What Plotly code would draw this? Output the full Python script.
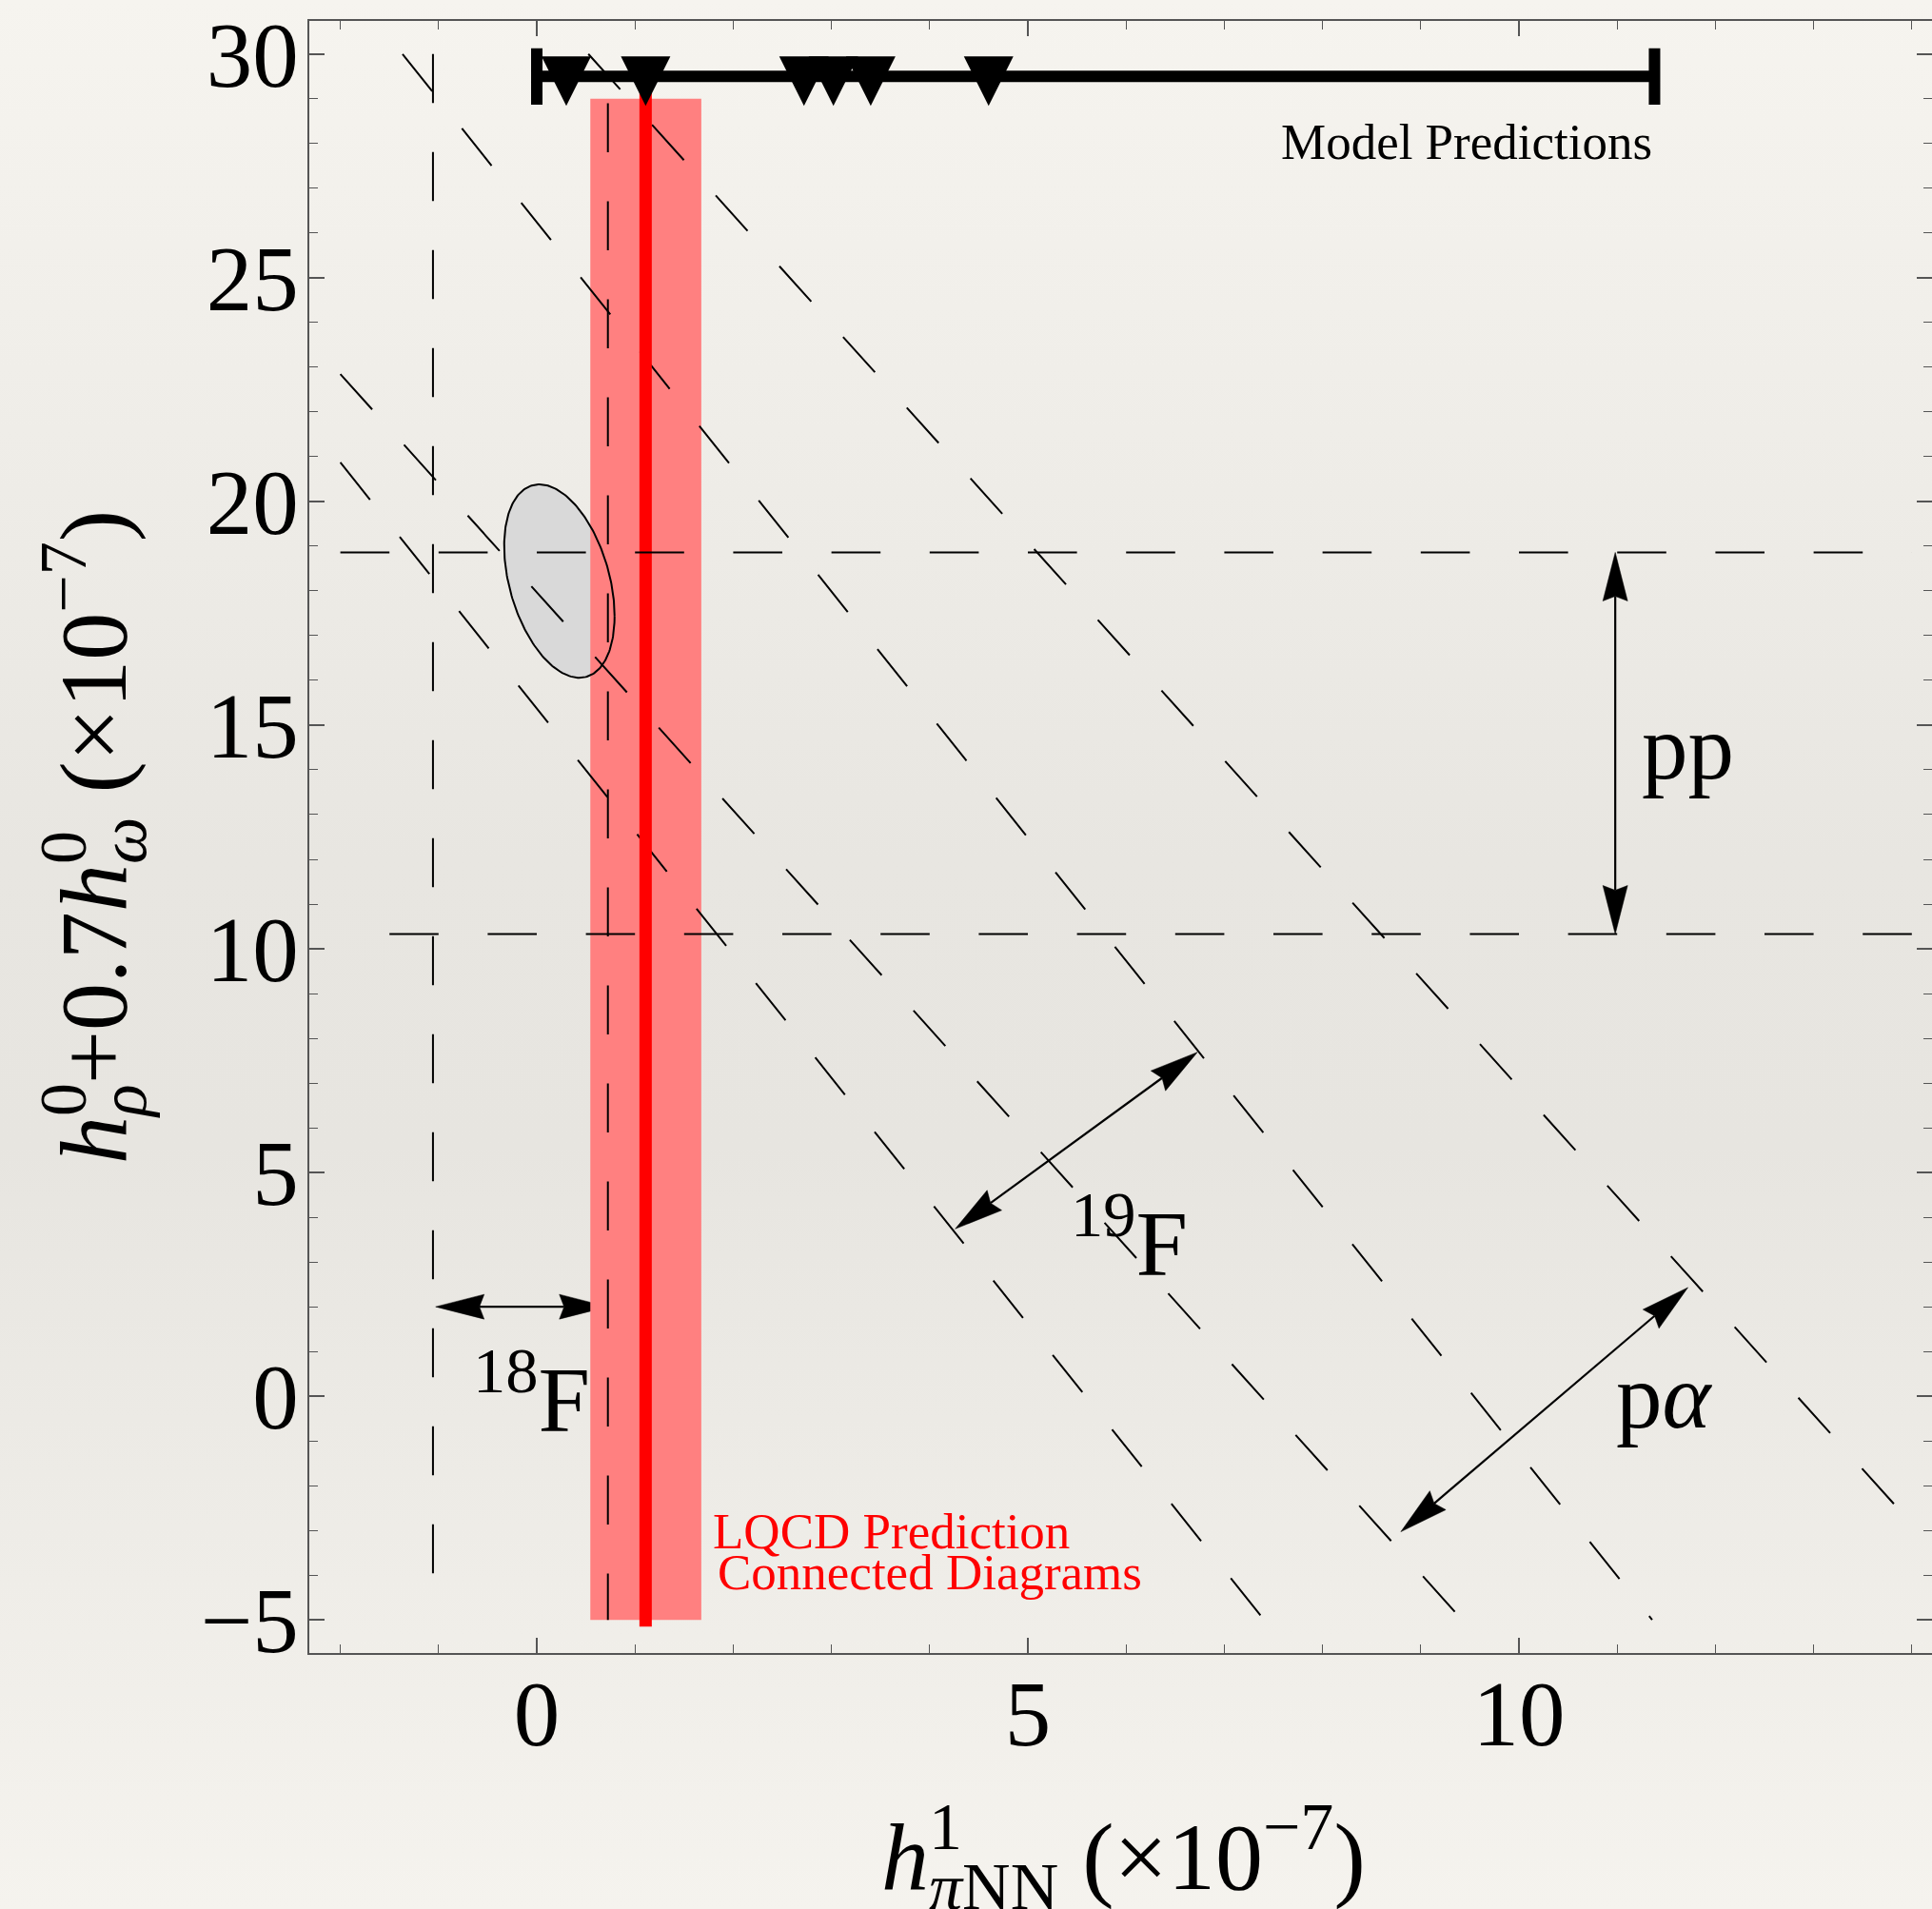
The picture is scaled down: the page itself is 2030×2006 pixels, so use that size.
import base64
import numpy as np
import plotly.graph_objects as go

# ---------------- data ----------------
x_range = [-2.316, 14.205]
y_range = [-5.74, 30.74]
line_x_span = [-2.0, 14.0]
line_y_span = [-5.0, 30.0]

# 18F constraint: vertical dashed bounds
f18_bounds = [-1.057, 0.724]
f18_tops = [30.0, 28.9]
f18_bottom = -5.0
# pp constraint: horizontal dashed bounds
pp_bounds = [18.86, 10.33]
pp_starts = [-2.0, -1.5]
pp_end = 14.0
# 19F band: y = intercept + slope * x
f19_slope = -2.751
f19_intercepts = [15.37, 26.24]
# p-alpha band
pa_slope = -2.438
pa_intercepts = [17.97, 31.28]

# LQCD prediction
lqcd_center = 1.108
lqcd_band = [0.545, 1.675]
lqcd_band_y = [-5.0, 29.0]
lqcd_line_y = [-5.15, 29.3]

# model predictions
model_range = [0.0, 11.38]
model_bar_y = 29.5
model_points = [0.30, 1.108, 2.72, 3.02, 3.40, 4.60]
model_marker_y = [28.84] * 6

# global-fit ellipse
ell_center = [0.23, 18.22]
ell_sigma = [0.562, 2.161]
ell_rho = -0.362

# double-headed arrows: (start, end)
arrows = {
    "18F": [(-1.03, 2.0), (0.724, 2.0)],
    "pp": [(10.98, 18.86), (10.98, 10.33)],
    "19F": [(4.26, 3.74), (6.726, 7.69)],
    "pa": [(8.797, -3.03), (11.72, 2.43)],
}

# ---------------- geometry ----------------
W, H = 2030, 2006
ML, MR, MT, MB = 325, 0, 22, 269
PW, PH = W - ML - MR, H - MT - MB
SX = PW / (x_range[1] - x_range[0])
SY = PH / (y_range[1] - y_range[0])
HDASH = "%.2fpx,%.2fpx" % (0.5 * SX, 0.5 * SX)
XTITLE_TOP_PX = 1879  # top of the x-axis title box, in figure pixels

FONT = "Liberation Serif, Times New Roman, serif"
BLACK = "black"

fig = go.Figure()


def head_polygon(tail, tip, L=51.0, Wd=13.0, notch=5.0):
    tx, ty = tip[0] * SX, tip[1] * SY
    bx, by = tail[0] * SX, tail[1] * SY
    d = np.hypot(tx - bx, ty - by)
    ux, uy = (tx - bx) / d, (ty - by) / d
    nx, ny = -uy, ux
    backx, backy = tx - L * ux, ty - L * uy
    pts = [
        (tx, ty),
        (backx + Wd * nx, backy + Wd * ny),
        (tx - (L - notch) * ux, ty - (L - notch) * uy),
        (backx - Wd * nx, backy - Wd * ny),
        (tx, ty),
    ]
    xs = [p[0] / SX for p in pts]
    ys = [p[1] / SY for p in pts]
    inner = (pts[2][0] / SX, pts[2][1] / SY)
    return xs, ys, inner


def add_arrow(a, b):
    xs1, ys1, in1 = head_polygon(a, b)
    xs2, ys2, in2 = head_polygon(b, a)
    fig.add_trace(go.Scatter(x=[in2[0], in1[0]], y=[in2[1], in1[1]], mode="lines",
                             line=dict(color=BLACK, width=2.2), hoverinfo="skip"))
    for xs, ys in ((xs1, ys1), (xs2, ys2)):
        fig.add_trace(go.Scatter(x=xs, y=ys, mode="lines", fill="toself",
                                 fillcolor=BLACK, line=dict(color=BLACK, width=0.5),
                                 hoverinfo="skip"))


# 18F arrow (under the LQCD band)
add_arrow(*arrows["18F"])

# ellipse
t = np.linspace(0, 2 * np.pi, 241)
sx_, sy_ = ell_sigma
ex = ell_center[0] + sx_ * np.cos(t)
ey = ell_center[1] + ell_rho * sy_ * np.cos(t) + sy_ * np.sqrt(1 - ell_rho ** 2) * np.sin(t)
fig.add_trace(go.Scatter(x=ex, y=ey, mode="lines", fill="toself", fillcolor="#D9D9D9",
                         line=dict(width=0, color="#D9D9D9"), hoverinfo="skip"))

# LQCD band
bx = [lqcd_band[0], lqcd_band[1], lqcd_band[1], lqcd_band[0], lqcd_band[0]]
by = [lqcd_band_y[0], lqcd_band_y[0], lqcd_band_y[1], lqcd_band_y[1], lqcd_band_y[0]]
fig.add_trace(go.Scatter(x=bx, y=by, mode="lines", fill="toself", fillcolor="#FF8080",
                         line=dict(width=0, color="#FF8080"), hoverinfo="skip"))

# ellipse outline
fig.add_trace(go.Scatter(x=ex, y=ey, mode="lines", line=dict(color=BLACK, width=2),
                         hoverinfo="skip"))

# 18F vertical dashed lines
for xv, top in zip(f18_bounds, f18_tops):
    fig.add_trace(go.Scatter(x=[xv, xv], y=[top, f18_bottom], mode="lines",
                             line=dict(color=BLACK, width=2, dash="51.5px,51.5px"),
                             hoverinfo="skip"))

# diagonal bands
for slope, inters in ((f19_slope, f19_intercepts), (pa_slope, pa_intercepts)):
    for c in inters:
        xs = max(line_x_span[0], (line_y_span[1] - c) / slope)
        xe = min(line_x_span[1], (line_y_span[0] - c) / slope)
        fig.add_trace(go.Scatter(x=[xs, xe], y=[c + slope * xs, c + slope * xe], mode="lines",
                                 line=dict(color=BLACK, width=2, dash="50px,50px"),
                                 hoverinfo="skip"))

# LQCD central line
fig.add_trace(go.Scatter(x=[lqcd_center, lqcd_center], y=lqcd_line_y, mode="lines",
                         line=dict(color="#FF0000", width=13), hoverinfo="skip"))

# pp horizontal dashed lines
for yv, xs in zip(pp_bounds, pp_starts):
    fig.add_trace(go.Scatter(x=[xs, pp_end], y=[yv, yv], mode="lines",
                             line=dict(color=BLACK, width=2, dash=HDASH),
                             hoverinfo="skip"))

# model predictions bar
mid = 0.5 * (model_range[0] + model_range[1])
half = 0.5 * (model_range[1] - model_range[0])
fig.add_trace(go.Scatter(x=[mid], y=[model_bar_y], mode="markers",
                         marker=dict(size=1, color=BLACK),
                         error_x=dict(type="data", array=[half], symmetric=True,
                                      color=BLACK, thickness=12, width=29.6),
                         hoverinfo="skip"))
fig.add_trace(go.Scatter(x=model_points, y=model_marker_y, mode="markers",
                         marker=dict(symbol="arrow-down", size=52, color=BLACK,
                                     line=dict(width=0)),
                         hoverinfo="skip"))

# other arrows
for k in ("pp", "19F", "pa"):
    add_arrow(*arrows[k])

# ---------------- annotations ----------------
ann = [
    dict(text="Model Predictions", x=model_range[1], y=28.03, xanchor="right", yanchor="middle",
         font=dict(size=53)),
    dict(text="pp", x=11.72, y=14.5, xanchor="center", yanchor="middle", font=dict(size=97)),
    dict(text="p<i>α</i>", x=11.48, y=0.0, xanchor="center", yanchor="middle", font=dict(size=97)),
    dict(text="<sup>19</sup>F", x=6.03, y=3.56, xanchor="center", yanchor="middle", font=dict(size=98)),
    dict(text="<sup>18</sup>F", x=-0.05, y=0.07, xanchor="center", yanchor="middle", font=dict(size=98)),
    dict(text="LQCD Prediction", x=1.77, y=-3.01, xanchor="left", yanchor="middle",
         font=dict(size=53, color="#FF0000")),
    dict(text="Connected Diagrams", x=1.82, y=-3.94, xanchor="left", yanchor="middle",
         font=dict(size=53, color="#FF0000")),
]
for a in ann:
    a.setdefault("showarrow", False)
    a["xref"] = "x"
    a["yref"] = "y"
    a["font"].setdefault("color", BLACK)
    a["font"]["family"] = FONT
    fig.add_annotation(**a)

# x-axis title (placed as a paper annotation so it can sit low, as in the reference)
xt = ("<i>h</i><sup><span style='letter-spacing:-0.5em'>1</span></sup>"
      "<sub><i>π</i>NN</sub> (×10<sup>−7</sup>)")
fig.add_annotation(text=xt, xref="paper", yref="paper", x=0.502,
                   y=1 - (XTITLE_TOP_PX - MT) / PH, xanchor="center", yanchor="top",
                   showarrow=False, font=dict(family=FONT, size=100, color=BLACK))

# ---------------- background gradient ----------------
svg = ('<svg xmlns="http://www.w3.org/2000/svg" viewBox="0 0 100 100" preserveAspectRatio="none">'
       '<defs><linearGradient id="g" x1="0" y1="0" x2="0" y2="1">'
       '<stop offset="0" stop-color="#F6F4EF"/><stop offset="0.45" stop-color="#E8E6E1"/>'
       '<stop offset="0.6" stop-color="#E7E5E0"/><stop offset="1" stop-color="#F5F3EE"/>'
       '</linearGradient></defs><rect width="100" height="100" fill="url(#g)"/></svg>')
src = "data:image/svg+xml;base64," + base64.b64encode(svg.encode()).decode()
fig.add_layout_image(dict(source=src, xref="paper", yref="paper",
                          x=-ML / PW, y=1 + MT / PH, sizex=W / PW, sizey=H / PH,
                          xanchor="left", yanchor="top", sizing="stretch", layer="below"))

axis_common = dict(showline=True, linecolor="#555555", linewidth=1.5, mirror="ticks",
                   ticks="inside", ticklen=16, tickwidth=1.5, tickcolor="#555555",
                   showgrid=False, zeroline=False, automargin=False,
                   tickfont=dict(family=FONT, size=97, color=BLACK),
                   minor=dict(ticks="inside", dtick=1, ticklen=9, tickwidth=1.2,
                              tickcolor="#555555", showgrid=False))

yt = ("<i>h</i><sup><span style='letter-spacing:-0.5em'>0</span></sup><sub><i>ρ</i></sub>"
      "+0.7<i>h</i><sup><span style='letter-spacing:-0.5em'>0</span></sup><sub><i>ω</i></sub>"
      " (×10<sup>−7</sup>)")

fig.update_layout(
    width=W, height=H,
    margin=dict(l=ML, r=MR, t=MT, b=MB, autoexpand=False),
    paper_bgcolor="#EEECE7",
    plot_bgcolor="rgba(0,0,0,0)",
    showlegend=False,
    xaxis=dict(range=x_range, tick0=0, dtick=5, ticklabelstandoff=-21, **axis_common),
    yaxis=dict(range=y_range, tick0=0, dtick=5, ticklabelstandoff=-10,
               title=dict(text=yt, font=dict(family=FONT, size=100, color=BLACK), standoff=45),
               **axis_common),
)

fig.write_html("out.html", config={"displayModeBar": False},
               post_script="document.body.style.margin='0';document.body.style.overflow='hidden';")
